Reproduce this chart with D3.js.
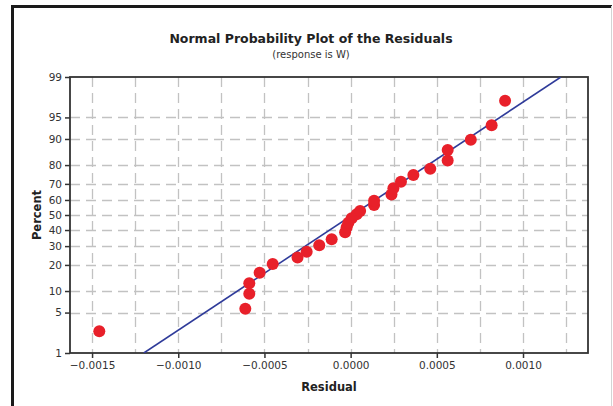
<!DOCTYPE html>
<meta charset="utf-8">
<style>
body { margin: 0; background: white; }
text { font-family: "DejaVu Sans", sans-serif; }
</style>
<body>
<script src="https://cdn.jsdelivr.net/npm/d3@7"></script>
<script>
// residuals, with their plotted percent
var residuals = [-0.001458, -0.000611, -0.000588, -0.000588, -0.000528, -0.000452, -0.000308,
  -0.000255, -0.000182, -0.00011, -0.000032, -0.000023, -0.000013, 0.000006, 0.000035,
  0.000055, 0.000136, 0.000136, 0.000237, 0.000248, 0.000292, 0.000364, 0.000462,
  0.000563, 0.000563, 0.000697, 0.000818, 0.000896]
var percents = [2.5, 5.7, 9.2, 12.5, 16.5, 20.4, 23.7, 26.8, 30.5, 34.1, 38.5, 41.8, 44.8,
  47.8, 50.5, 52.7, 56.7, 59.5, 63.5, 67.4, 71.3, 75.0, 78.2, 82.1, 86.3, 89.8, 93.5, 97.3]

var yTicks = [1, 5, 10, 20, 30, 40, 50, 60, 70, 80, 90, 95, 99]
var xTicks = [-0.0015, -0.0010, -0.0005, 0.0000, 0.0005, 0.0010]
var xGrid = [-0.00125, -0.00075, -0.00025, 0.00025, 0.00075, 0.00125]

// fitted normal line
var fitMean = 0.00001
var fitSd = 0.00052

var width = 613
var height = 406
var margin = { left: 70, top: 77, right: 588, bottom: 353 }

// inverse normal cdf (Acklam)
function probit(p) {
    var a = [-39.69683028665376, 220.9460984245205, -275.9285104469687, 138.3577518672690, -30.66479806614716, 2.506628277459239]
    var b = [-54.47609879822406, 161.5858368580409, -155.6989798598866, 66.80131188771972, -13.28068155288572]
    var c = [-0.007784894002430293, -0.3223964580411365, -2.400758277161838, -2.549732539343734, 4.374664141464968, 2.938163982698783]
    var d = [0.007784695709041462, 0.3224671290700398, 2.445134137142996, 3.754408661907416]
    var q, r
    if (p < 0.02425) {
        q = Math.sqrt(-2 * Math.log(p))
        return (((((c[0]*q+c[1])*q+c[2])*q+c[3])*q+c[4])*q+c[5]) / ((((d[0]*q+d[1])*q+d[2])*q+d[3])*q+1)
    }
    if (p > 1 - 0.02425) {
        q = Math.sqrt(-2 * Math.log(1 - p))
        return -(((((c[0]*q+c[1])*q+c[2])*q+c[3])*q+c[4])*q+c[5]) / ((((d[0]*q+d[1])*q+d[2])*q+d[3])*q+1)
    }
    q = p - 0.5
    r = q * q
    return (((((a[0]*r+a[1])*r+a[2])*r+a[3])*r+a[4])*r+a[5])*q / (((((b[0]*r+b[1])*r+b[2])*r+b[3])*r+b[4])*r+1)
}

var x = d3.scaleLinear().domain([-0.001628, 0.001377]).range([margin.left, margin.right])
var zMin = probit(0.01), zMax = probit(0.99)
var y = d3.scaleLinear().domain([zMin, zMax]).range([margin.bottom, margin.top])
var yp = function (pct) { return y(probit(pct / 100)) }

var svg = d3.select('body').append('svg')
    .attr('width', width)
    .attr('height', height)

// outer frame
svg.append('line').attr('x1', 12.5).attr('x2', 12.5).attr('y1', 5).attr('y2', height)
    .attr('stroke', '#1a1a1a').attr('stroke-width', 3)
svg.append('line').attr('x1', 11).attr('x2', 612).attr('y1', 6.5).attr('y2', 6.5)
    .attr('stroke', '#1a1a1a').attr('stroke-width', 3)
svg.append('line').attr('x1', 611.5).attr('x2', 611.5).attr('y1', 6).attr('y2', height)
    .attr('stroke', '#d4d4d4').attr('stroke-width', 1)

// titles
svg.append('text').attr('x', 311).attr('y', 43).attr('text-anchor', 'middle')
    .attr('font-size', 12.5).attr('font-weight', 'bold').attr('fill', '#222')
    .text('Normal Probability Plot of the Residuals')
svg.append('text').attr('x', 311).attr('y', 58).attr('text-anchor', 'middle')
    .attr('font-size', 10).attr('fill', '#333')
    .text('(response is W)')

// grid
var grid = svg.append('g').attr('stroke', '#c2c2c2').attr('stroke-width', 1.3).attr('stroke-dasharray', '10,6')
grid.selectAll('.gx').data(xTicks.concat(xGrid)).enter().append('line')
    .attr('x1', function (d) { return Math.round(x(d)) + 0.5 })
    .attr('x2', function (d) { return Math.round(x(d)) + 0.5 })
    .attr('y1', margin.top).attr('y2', margin.bottom)
grid.selectAll('.gy').data(yTicks.slice(1, -1)).enter().append('line')
    .attr('y1', function (d) { return Math.round(yp(d)) + 0.5 })
    .attr('y2', function (d) { return Math.round(yp(d)) + 0.5 })
    .attr('x1', margin.left).attr('x2', margin.right)

// axes
var xAxis = svg.append('g').attr('transform', 'translate(0,' + margin.bottom + ')')
    .call(d3.axisBottom(x).tickValues(xTicks).tickFormat(d3.format('.4f')).tickSize(5).tickPadding(4))
var yAxis = svg.append('g').attr('transform', 'translate(' + margin.left + ',0)')
    .call(d3.axisLeft(y).tickValues(yTicks.map(function (p) { return probit(p / 100) }))
        .tickFormat(function (d, i) { return yTicks[i] }).tickSize(5).tickPadding(3))
;[xAxis, yAxis].forEach(function (g) {
    g.select('.domain').remove()
    g.selectAll('line').attr('stroke', '#333').attr('stroke-width', 1.5)
    g.selectAll('text').attr('font-size', 10.5).attr('fill', '#333')
        .attr('font-family', '"DejaVu Sans", sans-serif')
})

// plot box
svg.append('rect')
    .attr('x', margin.left).attr('y', margin.top)
    .attr('width', margin.right - margin.left).attr('height', margin.bottom - margin.top)
    .attr('fill', 'none').attr('stroke', '#333').attr('stroke-width', 1.8)

// fitted line
svg.append('clipPath').attr('id', 'clip').append('rect')
    .attr('x', margin.left).attr('y', margin.top)
    .attr('width', margin.right - margin.left).attr('height', margin.bottom - margin.top)
var line = d3.line()
    .x(function (z) { return x(fitMean + fitSd * z) })
    .y(function (z) { return y(z) })
svg.append('path').datum([zMin, zMax])
    .attr('clip-path', 'url(#clip)')
    .attr('d', line)
    .attr('fill', 'none').attr('stroke', '#2f3b9a').attr('stroke-width', 1.6)

// points
svg.append('g').selectAll('circle').data(residuals).enter().append('circle')
    .attr('cx', function (d) { return x(d) })
    .attr('cy', function (d, i) { return yp(percents[i]) })
    .attr('r', 6)
    .attr('fill', '#e8202a')

// axis titles
svg.append('text').attr('x', (margin.left + margin.right) / 2).attr('y', 391)
    .attr('text-anchor', 'middle').attr('font-size', 11.5).attr('font-weight', 'bold').attr('fill', '#222')
    .text('Residual')
svg.append('text').attr('transform', 'translate(41,' + (margin.top + margin.bottom) / 2 + ') rotate(-90)')
    .attr('text-anchor', 'middle').attr('font-size', 11.5).attr('font-weight', 'bold').attr('fill', '#222')
    .text('Percent')
</script>
</body>
